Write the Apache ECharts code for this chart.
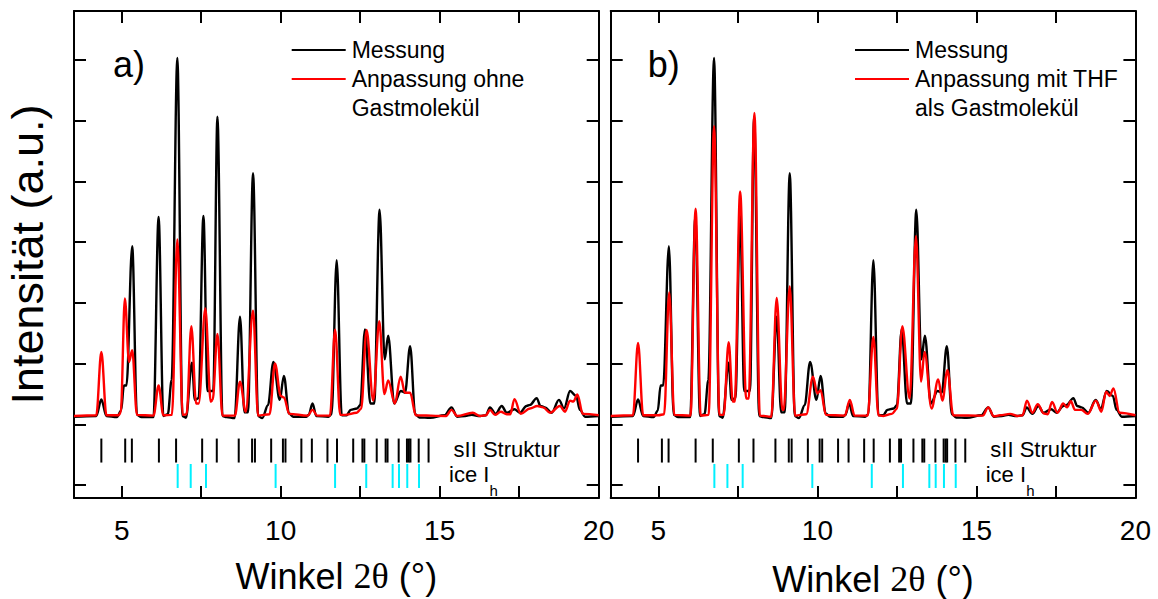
<!DOCTYPE html>
<html>
<head>
<meta charset="utf-8">
<script src="https://cdn.jsdelivr.net/npm/echarts@6/dist/echarts.min.js"></script>
<style>
html,body{margin:0;padding:0;background:#fff;}
#chart{width:1158px;height:599px;}
</style>
</head>
<body>
<div id="chart"></div>
<script>
// ---------------- data ----------------
// Measured pattern (same in both panels): [2theta (deg), intensity (rel.)]
const measurement = [[3.5,-0.2],[4.2,0],[4.36,4.6],[4.52,0],[4.85,-0.3],[4.98,1.5],[5.07,8.5],[5.15,8.5],[5.33,47.4],[5.48,0.3],[5.62,-0.3],[6.0,-0.3],[6.16,55.6],[6.31,0],[6.45,0.5],[6.57,10],[6.75,100],[6.91,0],[7.02,-0.5],[7.21,14.9],[7.3,4.5],[7.42,5],[7.57,55.9],[7.7,7],[7.88,7],[8.01,83.6],[8.17,0],[8.3,-0.3],[8.55,-0.6],[8.72,27.7],[8.86,1],[8.97,1],[9.13,67.8],[9.29,0],[9.42,-0.6],[9.6,3],[9.77,15.1],[9.97,4.5],[10.1,11.2],[10.26,0.7],[10.4,-0.2],[10.8,-0.2],[10.88,0.3],[11.0,3.5],[11.12,0],[11.5,-0.2],[11.6,0.5],[11.76,43.5],[11.92,0.2],[12.07,0.2],[12.2,1.7],[12.4,2.1],[12.5,3],[12.65,24.2],[12.82,3.5],[12.94,3.5],[13.11,57.6],[13.27,15.8],[13.38,22.4],[13.57,3.5],[13.78,7],[13.91,6.5],[14.07,19.5],[14.23,0.5],[14.36,-0.4],[14.7,-0.5],[15.15,0.2],[15.37,2.4],[15.55,-0.2],[15.8,0],[16.0,0.3],[16.27,0],[16.45,0.2],[16.58,2.4],[16.76,0.6],[16.95,2.8],[17.11,0.9],[17.35,1.9],[17.52,0.9],[17.73,2.8],[17.84,3.1],[18.05,5.0],[18.17,2.8],[18.31,2.4],[18.52,0.9],[18.75,4.5],[18.91,2.1],[19.1,7.0],[19.29,5.6],[19.41,1.7],[19.57,-0.2],[20,0]];

// Fit without guest molecule (panel a)
const fitNoGuest = [[3.5,0],[4.2,0.2],[4.36,17.9],[4.52,0.2],[4.9,0.2],[4.97,1],[5.1,32.8],[5.23,15.1],[5.33,18.4],[5.48,0.3],[6.0,0.1],[6.16,8.5],[6.31,0.2],[6.58,0.3],[6.75,49.3],[6.92,0.3],[7.04,0.5],[7.19,25.1],[7.34,3.5],[7.42,3.5],[7.63,30.0],[7.8,4.0],[7.86,4.5],[8.01,22.9],[8.17,0.1],[8.56,0.1],[8.72,9.6],[8.9,1.2],[9.13,29.4],[9.29,0.1],[9.65,0.5],[9.82,14.7],[10.0,5.6],[10.1,5.2],[10.27,0.6],[10.85,0.1],[11.0,1.7],[11.15,0.1],[11.55,0.1],[11.71,24.2],[11.87,0.3],[12.02,0.3],[12.39,0.9],[12.53,2],[12.7,24.0],[12.91,4.3],[13.1,26.5],[13.26,6.1],[13.38,9.9],[13.59,3.5],[13.77,11.0],[13.91,6.5],[14.07,6.5],[14.25,0.2],[15.2,0],[15.37,1.7],[15.55,0],[16.04,0.9],[16.27,0],[16.45,0.2],[16.58,1.7],[16.74,0.3],[16.92,1.2],[17.11,0.5],[17.22,0.5],[17.35,4.7],[17.55,0.6],[17.84,2.1],[18.07,2.8],[18.25,2.4],[18.47,0.9],[18.78,2.8],[18.94,1.2],[19.1,4.3],[19.2,4.0],[19.33,6.0],[19.5,0.6],[20,0.2]];

// Fit with THF as guest molecule (panel b)
const fitTHF = [[3.5,0],[4.2,0.2],[4.36,20.4],[4.52,0.2],[5.0,0.2],[5.18,0.5],[5.34,34.5],[5.5,0.3],[6.01,0.1],[6.17,57.9],[6.33,0.1],[6.58,0.3],[6.75,80.9],[6.92,0.3],[7.05,0.3],[7.21,20.6],[7.34,4.0],[7.4,4.0],[7.57,62.7],[7.76,4.9],[7.84,4.9],[8.02,84.6],[8.19,0.1],[8.55,-0.2],[8.72,33.0],[8.9,1.7],[8.94,1.7],[9.13,36.2],[9.3,0.1],[9.65,0.5],[9.86,11.0],[10.0,6.3],[10.1,7.2],[10.27,0.3],[10.86,0.1],[11.02,4.5],[11.17,0.1],[11.58,0.1],[11.76,22.1],[11.92,0.2],[12.07,0],[12.34,0.6],[12.5,2],[12.67,25.1],[12.9,4.9],[13.1,50.2],[13.26,9.6],[13.37,17.9],[13.59,2.1],[13.8,10.2],[13.93,4.3],[14.09,12.8],[14.27,0.2],[15.2,0.1],[15.37,2.4],[15.55,-0.1],[15.74,0.2],[16.06,0.6],[16.3,0],[16.45,0.2],[16.59,4.3],[16.76,0.9],[16.93,3.3],[17.12,0.7],[17.24,0.5],[17.38,3.9],[17.55,0.9],[17.73,3.5],[17.85,2.4],[17.97,4.1],[18.1,1.7],[18.3,1.7],[18.5,0.6],[18.76,4.3],[18.93,1.2],[19.08,6.8],[19.19,5.6],[19.31,7.7],[19.5,0.9],[20,0.2]];

// Reflection positions (2theta)
const sIIReflections = [4.36,5.11,5.32,6.17,6.71,7.53,7.99,8.68,9.10,9.19,9.70,10.07,10.15,10.65,10.98,11.47,11.77,12.28,12.57,12.63,13.02,13.30,13.36,13.71,13.97,14.03,14.08,14.34,14.65];
const iceIhReflections = [6.76,7.17,7.65,9.84,11.71,12.69,13.52,13.72,13.98,14.35];

// Axis ticks / labels
const xTickValues = [5, 7.5, 10, 12.5, 15, 17.5, 20];
const xLabelValues = [5, 10, 15, 20];

// Texts
const panelLabels = ['a)', 'b)'];
const legendTexts = [
  ['Messung', 'Anpassung ohne', 'Gastmolekül'],
  ['Messung', 'Anpassung mit THF', 'als Gastmolekül']
];
const seriesNames = [
  ['Messung', 'Anpassung ohne Gastmolekül'],
  ['Messung', 'Anpassung mit THF als Gastmolekül']
];
const fits = [fitNoGuest, fitTHF];
const xTitleParts = ['Winkel ', '2θ', ' (°)'];
const yTitle = 'Intensität (a.u.)';
const phaseLabels = ['sII Struktur', 'ice I', 'h'];

// ---------------- layout ----------------
const FONT = '"Liberation Sans", Arial, sans-serif';
const SERIF = '"Liberation Serif", "Times New Roman", serif';
const U = 31.8;                 // px per degree
const PANEL_LEFT = [74, 610.7];
const TOP = 11, H = 487, W = 16.5 * U;
const Y_MIN = -22.9, Y_MAX = 113.1;
const SII_BAND = [-6.3, -13.0];
const ICE_BAND = [-13.4, -20.1];
const BLACK = '#000000', RED = '#ff0000', CYAN = '#00f0ff';
const SMOOTH = 0.35, LW = 2.4;

const grids = [], xAxes = [], yAxes = [], series = [], graphics = [];

function frameAxis(extra) {
  return Object.assign({
    type: 'value',
    axisLine: { show: true, onZero: false, lineStyle: { color: BLACK, width: 2 } },
    axisTick: { show: false }, axisLabel: { show: false }, splitLine: { show: false }
  }, extra);
}
function tickAxis(extra) {
  return Object.assign({
    type: 'value',
    axisLine: { show: false, onZero: false },
    axisTick: { show: true, inside: true, length: 12, lineStyle: { color: BLACK, width: 2 } },
    axisLabel: { show: false }, splitLine: { show: false }
  }, extra);
}
function stickRenderer(band, color) {
  return function (params, api) {
    const p1 = api.coord([api.value(0), band[0]]);
    const p2 = api.coord([api.value(0), band[1]]);
    return { type: 'line', shape: { x1: p1[0], y1: p1[1], x2: p2[0], y2: p2[1] },
             style: { stroke: color, lineWidth: 2 } };
  };
}

PANEL_LEFT.forEach((L, i) => {
  const g = grids.length;
  grids.push({ left: L, top: TOP, width: W, height: H, outerBoundsMode: 'none', containLabel: false });
  grids.push({ left: L + 1.5 * U, top: TOP, width: 15 * U, height: H, outerBoundsMode: 'none', containLabel: false });
  grids.push({ left: L, top: 60, width: W, height: 425, outerBoundsMode: 'none', containLabel: false });

  const xMain = xAxes.length;
  xAxes.push(frameAxis({ gridIndex: g, min: 3.5, max: 20, position: 'bottom',
    name: '{a|' + xTitleParts[0] + '}{b|' + xTitleParts[1] + '}{a|' + xTitleParts[2] + '}',
    nameLocation: 'middle', nameGap: i === 0 ? 60 : 63,
    nameTextStyle: { rich: {
      a: { fontFamily: FONT, fontSize: 36, color: BLACK },
      b: { fontFamily: SERIF, fontSize: 36, color: BLACK } } } }));
  xAxes.push(frameAxis({ gridIndex: g, min: 3.5, max: 20, position: 'top' }));
  const yMain = yAxes.length;
  yAxes.push(frameAxis(Object.assign({ gridIndex: g, min: Y_MIN, max: Y_MAX, position: 'left' },
    i === 0 ? { name: yTitle, nameLocation: 'middle', nameGap: 24,
      nameTextStyle: { fontFamily: FONT, fontSize: 45, color: BLACK } } : {})));
  yAxes.push(frameAxis({ gridIndex: g, min: Y_MIN, max: Y_MAX, position: 'right' }));

  // x ticks grid
  xAxes.push(tickAxis({ gridIndex: g + 1, min: xTickValues[0], max: xTickValues[xTickValues.length - 1],
    interval: xTickValues[1] - xTickValues[0], position: 'bottom',
    axisLabel: { show: true, margin: 18, fontFamily: FONT, fontSize: 28, color: BLACK,
      formatter: v => (xLabelValues.indexOf(v) >= 0 ? String(v) : '') } }));
  xAxes.push(tickAxis({ gridIndex: g + 1, min: xTickValues[0], max: xTickValues[xTickValues.length - 1],
    interval: xTickValues[1] - xTickValues[0], position: 'top' }));
  yAxes.push({ gridIndex: g + 1, type: 'value', show: false, min: 0, max: 1 });

  // y ticks grid
  xAxes.push({ gridIndex: g + 2, type: 'value', show: false, min: 0, max: 1 });
  yAxes.push(tickAxis({ gridIndex: g + 2, min: 0, max: 7, interval: 1, position: 'left' }));
  yAxes.push(tickAxis({ gridIndex: g + 2, min: 0, max: 7, interval: 1, position: 'right' }));

  // reflection sticks
  series.push({ type: 'custom', name: phaseLabels[0], xAxisIndex: xMain, yAxisIndex: yMain,
    renderItem: stickRenderer(SII_BAND, BLACK), data: sIIReflections.map(v => [v, 0]), silent: true, z: 2 });
  series.push({ type: 'custom', name: 'ice Ih', xAxisIndex: xMain, yAxisIndex: yMain,
    renderItem: stickRenderer(ICE_BAND, CYAN), data: iceIhReflections.map(v => [v, 0]), silent: true, z: 2 });

  // curves
  series.push({ type: 'line', name: seriesNames[i][0], xAxisIndex: xMain, yAxisIndex: yMain,
    data: measurement, symbol: 'none', showSymbol: false, smooth: SMOOTH, smoothMonotone: 'x',
    lineStyle: { color: BLACK, width: LW }, itemStyle: { color: BLACK }, silent: true, z: 3 });
  series.push({ type: 'line', name: seriesNames[i][1], xAxisIndex: xMain, yAxisIndex: yMain,
    data: fits[i], symbol: 'none', showSymbol: false, smooth: SMOOTH, smoothMonotone: 'x',
    lineStyle: { color: RED, width: LW }, itemStyle: { color: RED }, silent: true, z: 4 });

  // panel label
  const off = L - PANEL_LEFT[0];
  graphics.push({ type: 'text', x: 113 + off + (i === 1 ? -2 : 0), y: 64,
    style: { text: panelLabels[i], font: '36px ' + FONT, fill: BLACK, textAlign: 'left', textVerticalAlign: 'middle' } });

  // legend
  const lx = i === 0 ? 291.7 : 855;
  [[BLACK, 50], [RED, 79]].forEach(([c, y]) => {
    graphics.push({ type: 'line', shape: { x1: lx, y1: y, x2: lx + 54, y2: y }, style: { stroke: c, lineWidth: 2 } });
  });
  legendTexts[i].forEach((t, k) => {
    graphics.push({ type: 'text', x: lx + 60, y: 50 + 29 * k,
      style: { text: t, font: '23px ' + FONT, fill: BLACK, textAlign: 'left', textVerticalAlign: 'middle' } });
  });

  // phase labels
  graphics.push({ type: 'text', x: 453.6 + off, y: 449,
    style: { text: phaseLabels[0], font: '22px ' + FONT, fill: BLACK, textAlign: 'left', textVerticalAlign: 'middle' } });
  graphics.push({ type: 'text', x: 449 + off, y: 474,
    style: { text: phaseLabels[1], font: '22px ' + FONT, fill: BLACK, textAlign: 'left', textVerticalAlign: 'middle' } });
  graphics.push({ type: 'text', x: 489.5 + off, y: 490,
    style: { text: phaseLabels[2], font: '15px ' + FONT, fill: BLACK, textAlign: 'left', textVerticalAlign: 'middle' } });
});

const chart = echarts.init(document.getElementById('chart'), null, { renderer: 'svg' });
chart.setOption({
  animation: false,
  backgroundColor: '#ffffff',
  grid: grids,
  xAxis: xAxes,
  yAxis: yAxes,
  series: series,
  graphic: { elements: graphics }
});
</script>
</body>
</html>
